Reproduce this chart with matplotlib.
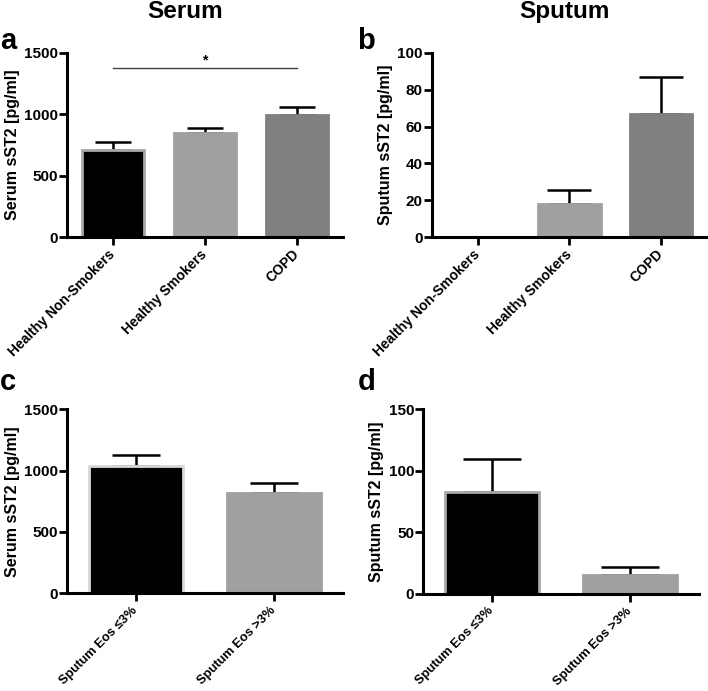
import numpy as np
import matplotlib.pyplot as plt

plt.rcParams['font.family'] = ['Liberation Sans', 'DejaVu Sans']
plt.rcParams['font.weight'] = 'bold'

# data (mean and upper SEM)
groups = ['Healthy Non-Smokers', 'Healthy Smokers', 'COPD']
serum_mean = [709, 850, 995]
serum_err = [68, 41, 62]
sputum_mean = [0, 18, 66.6]
sputum_err = [0, 7.6, 20.1]

eos_groups = ['Sputum Eos \u22643%', 'Sputum Eos >3%']
eos_serum_mean = [1038, 820]
eos_serum_err = [89, 82]
eos_sputum_mean = [83, 15.4]
eos_sputum_err = [26.6, 6.3]

colors3 = ['black', '#a0a0a0', '#808080']
edges3 = ['#a8a8a8', '#a0a0a0', '#808080']

fig = plt.figure(figsize=(7.08, 6.91), dpi=100)


def bar_panel(rect, labels, means, errs, colors, edges, ymax, yticks, ylabel, capsize, xfs):
    ax = fig.add_axes(rect)
    x = np.arange(len(labels))
    ax.bar(x, means, width=0.68, color=colors, edgecolor=edges, linewidth=2, zorder=2)
    ax.errorbar(x, means, yerr=[np.zeros(len(errs)), errs], fmt='none',
                ecolor='black', elinewidth=1.8, capsize=capsize, capthick=1.8, zorder=1)
    ax.set_xlim(-0.5, len(labels) - 0.5)
    ax.set_ylim(0, ymax)
    ax.set_yticks(yticks)
    ax.set_xticks(x)
    ax.set_xticklabels(labels, rotation=45, ha='right', va='center', rotation_mode='anchor',
                       fontsize=xfs, fontweight='bold')
    ax.tick_params(axis='y', labelsize=11, width=2, length=5.5, pad=1)
    ax.tick_params(axis='x', width=2, length=6, pad=5)
    for s in ['top', 'right']:
        ax.spines[s].set_visible(False)
    for s in ['left', 'bottom']:
        ax.spines[s].set_linewidth(2.2)
    ax.spines['left'].set_bounds(0, ymax)
    ax.set_ylabel(ylabel, fontsize=11.5, fontweight='bold', labelpad=3)
    ax.patch.set_visible(False)
    return ax


ax_a = bar_panel([0.0946, 0.657, 0.39, 0.2663], groups, serum_mean, serum_err,
                 colors3, edges3, 1500, [0, 500, 1000, 1500], 'Serum sST2 [pg/ml]', 13, 10)
ax_b = bar_panel([0.6097, 0.657, 0.389, 0.2663], groups, sputum_mean, sputum_err,
                 colors3, edges3, 100, [0, 20, 40, 60, 80, 100], 'Sputum sST2 [pg/ml]', 16, 10)
ax_c = bar_panel([0.0946, 0.1414, 0.39, 0.2663], eos_groups, eos_serum_mean, eos_serum_err,
                 ['black', '#a0a0a0'], ['#d8d8d8', '#a0a0a0'], 1500, [0, 500, 1000, 1500],
                 'Serum sST2 [pg/ml]', 17, 9.3)
ax_d = bar_panel([0.5975, 0.1404, 0.39, 0.2673], eos_groups, eos_sputum_mean, eos_sputum_err,
                 ['black', '#a0a0a0'], ['#a8a8a8', '#a0a0a0'], 150, [0, 50, 100, 150],
                 'Sputum sST2 [pg/ml]', 21, 9.3)

# significance bar in panel a
ax_a.plot([0, 2], [1380, 1380], color='#404040', linewidth=1)
ax_a.text(1, 1385, '*', ha='center', va='bottom', fontsize=10)

# column titles and panel letters
fig.text(0.262, 0.983, 'Serum', ha='center', va='center', fontsize=17.5, fontweight='bold')
fig.text(0.797, 0.983, 'Sputum', ha='center', va='center', fontsize=17.5, fontweight='bold')
fig.text(0.0, 0.940, 'a', ha='left', va='center', fontsize=21, fontweight='bold')
fig.text(0.505, 0.940, 'b', ha='left', va='center', fontsize=21, fontweight='bold')
fig.text(0.0, 0.447, 'c', ha='left', va='center', fontsize=21, fontweight='bold')
fig.text(0.505, 0.447, 'd', ha='left', va='center', fontsize=21, fontweight='bold')

fig.savefig('out.png', dpi=100)
